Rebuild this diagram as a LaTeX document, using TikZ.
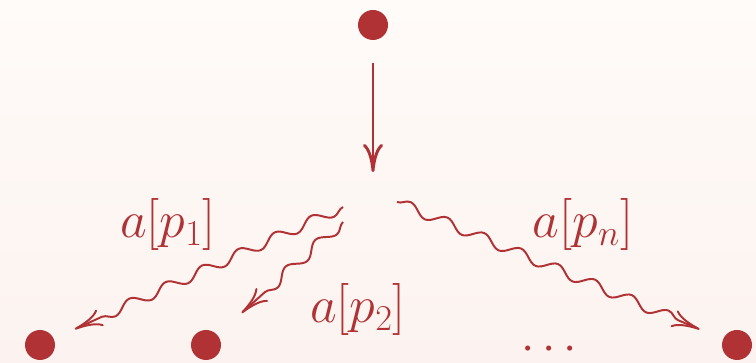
\RequirePackage{fix-cm}
\documentclass[tikz,border=0pt]{standalone}
\usepackage{amsmath,amssymb}
\usepackage{xcolor}
\usepackage{tikz}
\usetikzlibrary{arrows.meta,calc,decorations.pathmorphing}
\definecolor{vertred}{HTML}{B03234}
\definecolor{bgtop}{HTML}{FFFBF8}
\definecolor{bgbottom}{HTML}{FCF3F0}

\begin{document}
\begin{tikzpicture}[every node/.style={font=\fontsize{37}{42}\selectfont, text=vertred}, line width=1.4pt,
  vertex/.style={circle, fill=vertred, inner sep=0pt, minimum size=0.75cm},
  wave/.style={vertred, decorate,
    decoration={snake, amplitude=1.3mm, segment length=10mm, post length=4mm},
    -{To[length=7mm, width=4.5mm]}}]

% ---------------- background -------------------------------------------------
\shade[top color=bgtop, bottom color=bgbottom] (0,0) rectangle (18.9,9.075);
\useasboundingbox (0,0) rectangle (18.9,9.075);

% ---------------- vertices ---------------------------------------------------
\node[vertex] (top) at (9.325,8.45) {};
\node[vertex] (b1) at (1.0,0.45) {};
\node[vertex] (b2) at (5.15,0.45) {};
\node[vertex] (bn) at (18.425,0.45) {};
\node[font=\fontsize{34}{40}\selectfont] (dots) at (13.825,0.33) {$\cdots$};

% ---------------- incoming line ----------------------------------------------
\coordinate (v) at (9.325,4.775);
\draw[vertred, line width=2.1pt, shorten <=0.55cm, -{To[length=7mm, width=5mm]}] (top) -- (v);

% ---------------- emitted quanta ---------------------------------------------
\coordinate (s1) at (8.575,3.9);
\coordinate (s2) at (8.575,3.525);
\coordinate (sn) at (9.925,4.025);
\draw[wave] (s1) -- ($(s1)!0.885!(b1)$);
\draw[wave] (s2) -- ($(s2)!0.74!(b2)$);
\draw[wave] (sn) -- ($(sn)!0.89!(bn)$);

\node (lp1) at (4.2,3.45) {$a[p_1]$};
\node (lp2) at (8.95,1.325) {$a[p_2]$};
\node (lpn) at (14.575,3.45) {$a[p_n]$};

\end{tikzpicture}
\end{document}
